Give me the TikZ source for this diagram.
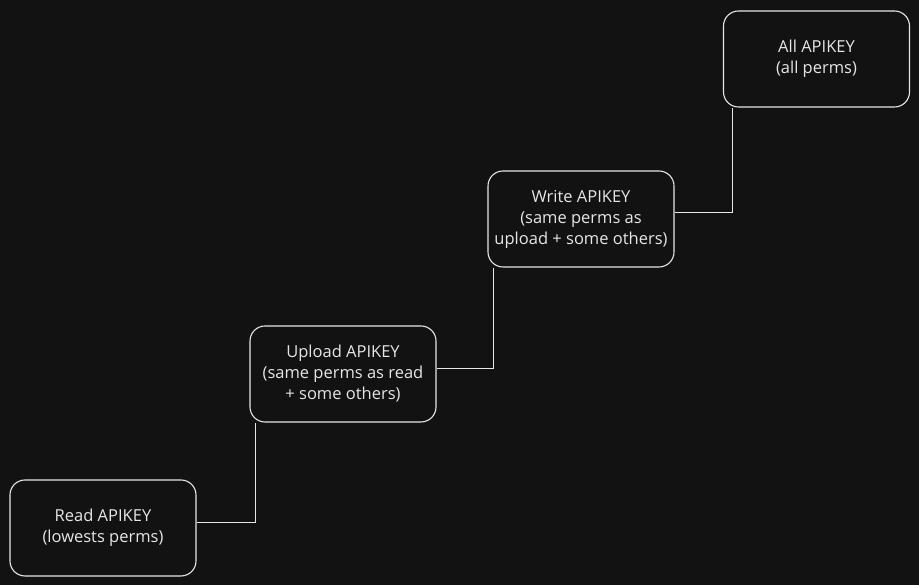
\documentclass[tikz,border=0pt]{standalone}
\usepackage{fontspec}
\setmainfont{Open Sans}
\definecolor{bgdark}{HTML}{121212}
\definecolor{chalk}{HTML}{E6E6E6}

\begin{document}
\begin{tikzpicture}[x=1pt, y=1pt,
        keybox/.style={draw=chalk, line width=1.1pt, fill=bgdark, rounded corners=15pt,
            minimum width=186pt, minimum height=96pt, align=center, text=chalk,
            font=\fontsize{16.5}{21}\selectfont, inner sep=2pt},
        link/.style={draw=chalk, line width=1pt}]
        \fill[bgdark] (0, 0) rectangle (919, 585);
        \useasboundingbox (0, 0) rectangle (919, 585);

        \node[keybox] (read) at (103, 57) {Read APIKEY\\(lowests perms)};
        \node[keybox] (upload) at (343, 211) {Upload APIKEY\\(same perms as read\\+ some others)};
        \node[keybox] (write) at (581, 366) {Write APIKEY\\(same perms as\\upload + some others)};
        \node[keybox] (all) at (816.5, 526) {All APIKEY\\(all perms)};

        \draw[link] ([yshift=5]read.east) -| ([xshift=6]upload.south west);
        \draw[link] ([yshift=5]upload.east) -| ([xshift=6]write.south west);
        \draw[link] ([yshift=6]write.east) -| ([xshift=10]all.south west);

    \end{tikzpicture}
\end{document}
